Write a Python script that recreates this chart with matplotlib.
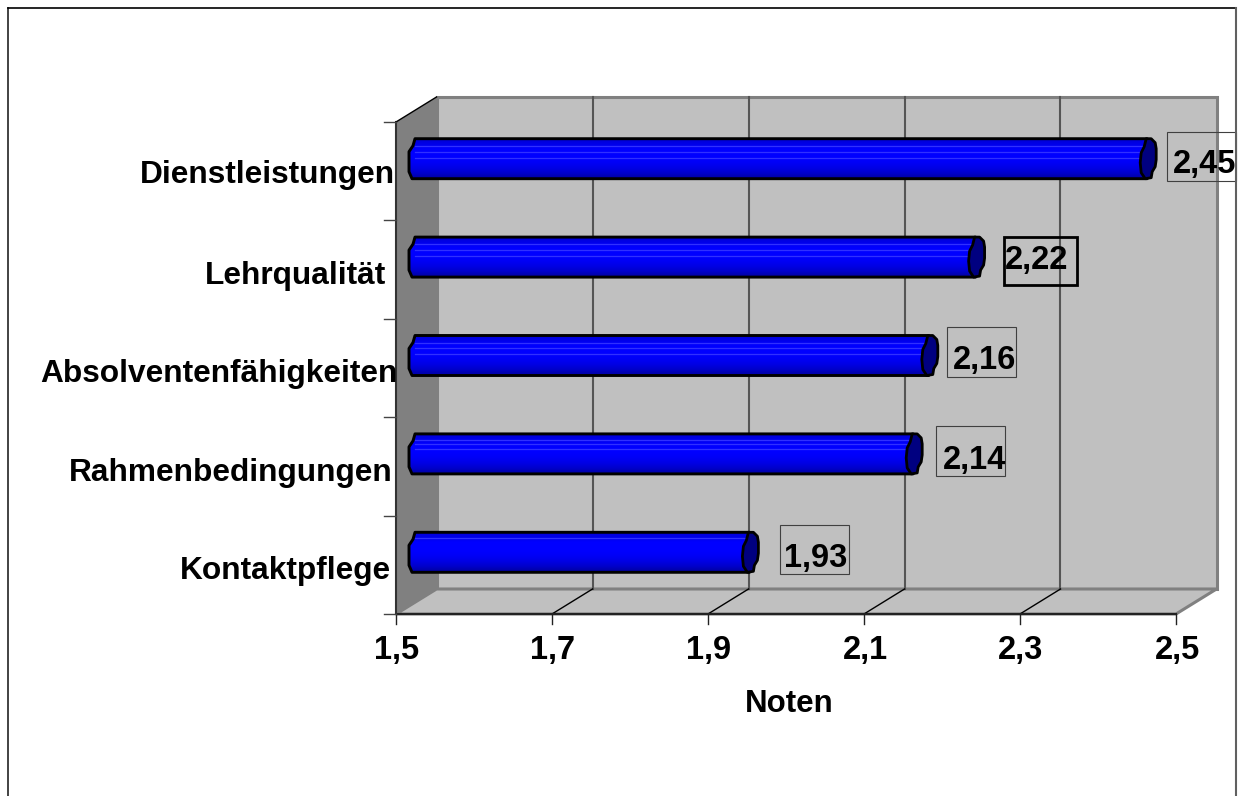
import numpy as np
import matplotlib
matplotlib.use('Agg')
import matplotlib.pyplot as plt
from matplotlib.lines import Line2D
from matplotlib.patches import PathPatch, Polygon, Rectangle
from matplotlib.path import Path
from matplotlib.transforms import Affine2D

categories = ['Kontaktpflege', 'Rahmenbedingungen', 'Absolventenfähigkeiten', 'Lehrqualität', 'Dienstleistungen']
values = [1.93, 2.14, 2.16, 2.22, 2.44]
value_labels = ['1,93', '2,14', '2,16', '2,22', '2,45']
x_ticks = [1.5, 1.7, 1.9, 2.1, 2.3, 2.5]
x_tick_labels = ['1,5', '1,7', '1,9', '2,1', '2,3', '2,5']

W, H = 1239, 796
L, R, T, B = 396, 1176, 122, 614
DX, DY = 40.5, 25
px = 1 / ((R - L) / (x_ticks[-1] - x_ticks[0]))
py = len(categories) / (B - T)

font = 'Liberation Sans'
fig = plt.figure(figsize=(W / 100, H / 100), dpi=100, facecolor='white')
ax = fig.add_axes([L / W, 1 - B / H, (R - L) / W, (B - T) / H])
ax.set_xlim(x_ticks[0], x_ticks[-1])
ax.set_ylim(0, len(categories))
ax.axis('off')

# pixel space of the picture, y going down
pix = Affine2D().scale(1, -1).translate(0, H)
back = ax.transData + Affine2D().translate(DX, DY)
mid = ax.transData + Affine2D().translate(19, DY / 2)

# outer frame, no bottom edge in the picture
fig.add_artist(Line2D([8, 8], [8, H], transform=pix, color='#222222', lw=1.2))
fig.add_artist(Line2D([8, 1236], [7.5, 7.5], transform=pix, color='black', lw=1.2))
fig.add_artist(Line2D([1236, 1236], [8, H], transform=pix, color='#606060', lw=1.5))

x0, x1 = x_ticks[0], x_ticks[-1]
y1 = len(categories)
ddx, ddy = DX * px, DY * py

# walls
ax.add_patch(Rectangle((x0, 0), x1 - x0, y1, transform=back, fc='#c0c0c0', ec='#808080', lw=2.2, clip_on=False))
ax.add_patch(Polygon([(x0, 0), (x0 + ddx, ddy), (x1 + ddx, ddy), (x1, 0)], fc='#c0c0c0', ec='#808080', lw=2.2, clip_on=False))
ax.add_patch(Polygon([(x0, 0), (x0 + ddx, ddy), (x0 + ddx, y1 + ddy), (x0, y1)], fc='#808080', ec='none', clip_on=False))

for t in x_ticks[1:-1]:
    ax.plot([t, t], [0, y1], transform=back, color='#555555', lw=1.5, clip_on=False)
    ax.plot([t, t + ddx], [0, ddy], color='black', lw=1, clip_on=False)

# axis lines and ticks
ax.plot([x0, x1], [0, 0], color='#222222', lw=1.5, clip_on=False)
ax.plot([x0, x0], [0, y1], color='#333333', lw=1.5, clip_on=False)
ax.plot([x0, x0 + ddx], [y1, y1 + ddy], color='black', lw=1, clip_on=False)
for t in x_ticks:
    ax.plot([t, t], [0, -10 * py], color='#222222', lw=1, clip_on=False)
for k in range(y1 + 1):
    ax.plot([x0, x0 - 12 * px], [k, k], color='#444444', lw=1, clip_on=False)

# bars
gradient = np.array([0.86, 0.93, 1, 1, 1, 0.98, 0.94, 0.88, 0.8, 0.68]).reshape(-1, 1)
gradient = np.dstack([np.zeros_like(gradient), np.zeros_like(gradient), gradient])
half = 20 * py
sheen = [[6], [6, 10, 15], [7, 12, 18], [7, 13, 19], [7, 13, 19]]
end_cap = [(3, -20), (7, -16), (8, -10), (8, 1), (7, 8), (4, 13), (3, 19), (-3, 20), (-7, 14),
           (-8, 4), (-7, -6), (-4, -12), (-2, -20)]
for k, v in enumerate(values):
    yc = k + 0.5
    end = v - 1 * px
    pts = [(x0, yc + half), (end, yc + half), (end, yc - half), (x0 - 3 * px, yc - half),
           (x0 - 6 * px, yc - 13 * py), (x0 - 6 * px, yc + 7 * py), (x0 - 2 * px, yc + 13 * py),
           (x0, yc + half)]
    shape = PathPatch(Path(pts, closed=True), transform=mid, fc='none', ec='black', lw=2.1,
                      joinstyle='round', zorder=4, clip_on=False)
    ax.add_patch(shape)
    im = ax.imshow(gradient, extent=(x0 - 6 * px, end, yc - half, yc + half), transform=mid,
                   aspect='auto', zorder=3, interpolation='bilinear')
    im.set_clip_path(shape)
    for off in sheen[k]:
        ax.plot([x0, end], [yc + half - off * py] * 2, transform=mid, color='#3030ff', lw=0.9, zorder=3.5, clip_on=False)
    blob = [(v + a * px, yc - b * py) for a, b in end_cap]
    ax.add_patch(Polygon(blob, transform=mid, fc='#000080', ec='black', lw=2, joinstyle='round', zorder=5, clip_on=False))
ax.set_xlim(x0, x1)
ax.set_ylim(0, y1)

# value label boxes
boxes = [(780, 525, 849, 574, 816, 556), (936, 426, 1005, 476, 975, 458), (947, 327, 1016, 377, 985, 358),
         (1004, 237, 1077, 285, 1037, 258), (1167, 132, 1236, 181, 1205, 163)]
for k, (xa, ya, xb, yb, tx, ty) in enumerate(boxes):
    thick = value_labels[k] == '2,22'
    fig.add_artist(Rectangle((xa, ya), xb - xa, yb - ya, transform=pix, fill=False,
                             ec='black' if thick else '#404040', lw=2 if thick else 0.8))
    fig.text(tx, ty + 2, value_labels[k], transform=pix, ha='center', va='center', fontsize=23.5,
             fontweight='bold', family=font)

# category labels sit at slightly different spots
label_pos = [(390.5, 571), (392.5, 473), (397.5, 374), (386.5, 276), (395.5, 175)]
for (lx, ly), name in zip(label_pos, categories):
    fig.text(lx, ly, name, transform=pix, ha='right', va='center', fontsize=22.8, fontweight='bold', family=font)

for t, s in zip(x_ticks, x_tick_labels):
    ax.annotate(s, xy=(t, 0), xytext=(1, -37), textcoords='offset pixels', ha='center', va='center',
                fontsize=23.5, fontweight='bold', family=font)
fig.text(789, 704, 'Noten', transform=pix, ha='center', va='center', fontsize=22.5, fontweight='bold', family=font)

fig.savefig('out.png', dpi=100)
